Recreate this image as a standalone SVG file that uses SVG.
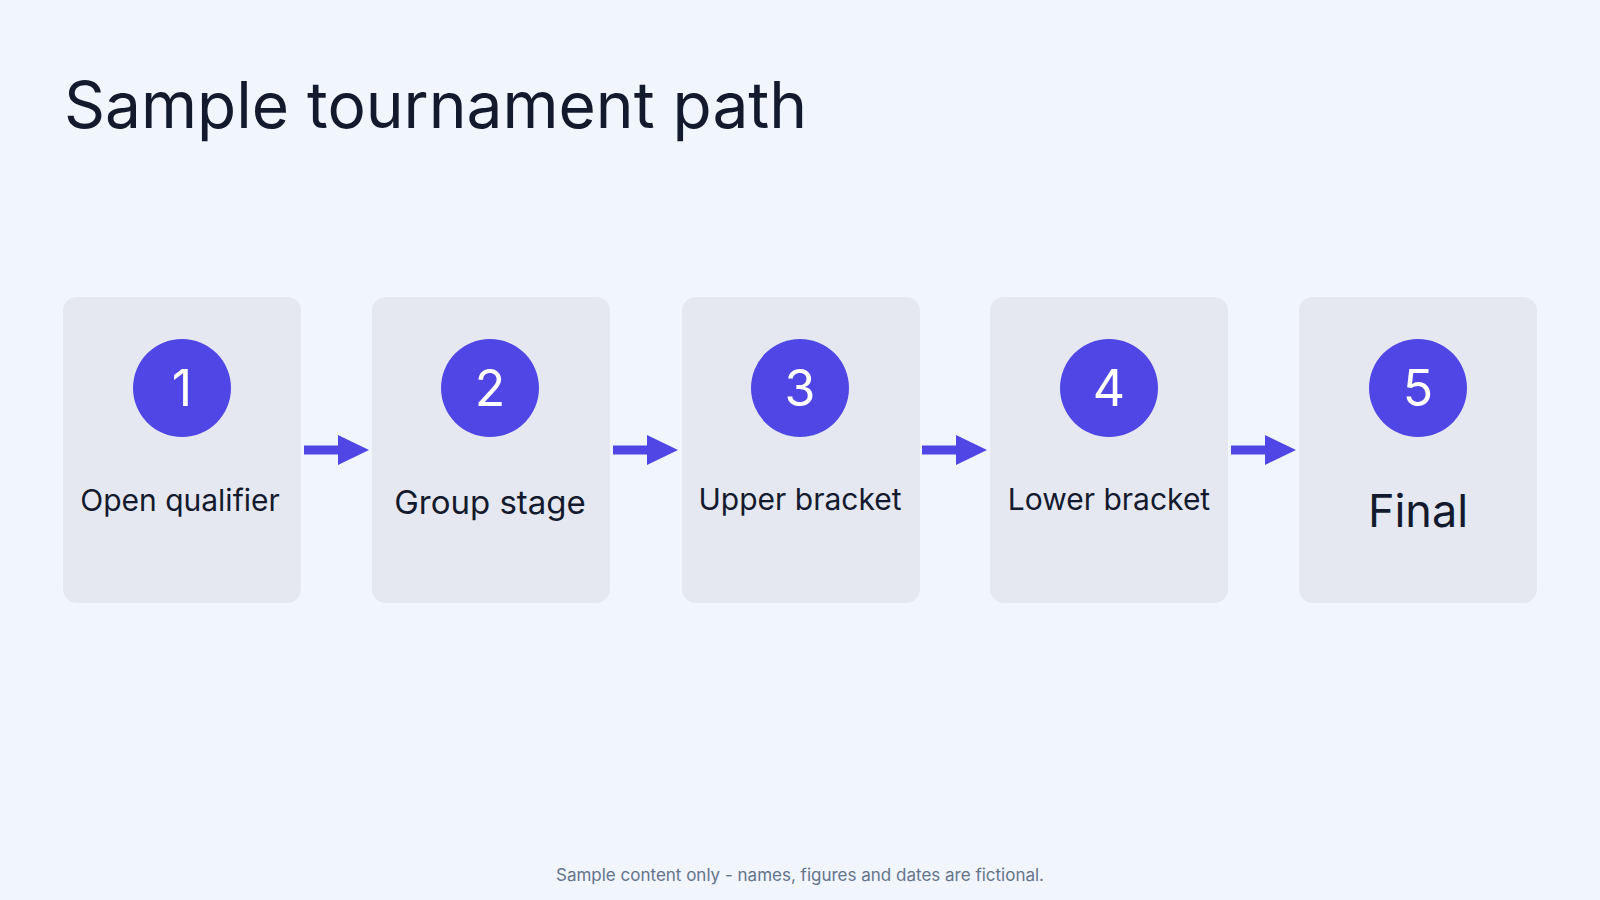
<svg xmlns="http://www.w3.org/2000/svg" width="1600" height="900" viewBox="0 0 1600 900">
<style>
.box{fill:#e5e8f0}
.c{fill:#4f46e5}
.n{font-family:Inter,"Liberation Sans",sans-serif;font-size:50px;fill:#fff;text-anchor:middle}
.l{font-family:Inter,"Liberation Sans",sans-serif;fill:#141a2e;text-anchor:middle}
.a{stroke:#4f46e5;stroke-width:9;fill:none}
.h{fill:#4f46e5}
</style>
<rect width="1600" height="900" fill="#f1f5fe"/>
<text x="64" y="128" font-family="Inter,'Liberation Sans',sans-serif" font-size="64" fill="#141a2e">Sample tournament path</text>
<g id="n1"><rect class="box" x="63" y="297" width="238" height="306" rx="14"/><circle class="c" cx="182" cy="388" r="49"/><text class="n" x="182" y="406">1</text><text class="l" x="180" y="511" font-size="30">Open qualifier</text></g>
<g id="n2"><rect class="box" x="372" y="297" width="238" height="306" rx="14"/><circle class="c" cx="490" cy="388" r="49"/><text class="n" x="490" y="406">2</text><text class="l" x="490" y="514" font-size="33">Group stage</text></g>
<g id="n3"><rect class="box" x="682" y="297" width="238" height="306" rx="14"/><circle class="c" cx="800" cy="388" r="49"/><text class="n" x="800" y="406">3</text><text class="l" x="800" y="510" font-size="30">Upper bracket</text></g>
<g id="n4"><rect class="box" x="990" y="297" width="238" height="306" rx="14"/><circle class="c" cx="1109" cy="388" r="49"/><text class="n" x="1109" y="406">4</text><text class="l" x="1109" y="510" font-size="30">Lower bracket</text></g>
<g id="n5"><rect class="box" x="1299" y="297" width="238" height="306" rx="14"/><circle class="c" cx="1418" cy="388" r="49"/><text class="n" x="1418" y="406">5</text><text class="l" x="1418" y="527" font-size="45">Final</text></g>
<g id="connectors">
<line class="a" x1="304" y1="450" x2="345" y2="450"/><polygon class="h" points="338,435 369,450 338,465"/>
<line class="a" x1="613" y1="450" x2="654" y2="450"/><polygon class="h" points="647,435 678,450 647,465"/>
<line class="a" x1="922" y1="450" x2="963" y2="450"/><polygon class="h" points="956,435 987,450 956,465"/>
<line class="a" x1="1231" y1="450" x2="1272" y2="450"/><polygon class="h" points="1265,435 1296,450 1265,465"/>
</g>
<text x="800" y="881" text-anchor="middle" font-family="Inter,'Liberation Sans',sans-serif" font-size="17" fill="#64748b">Sample content only - names, figures and dates are fictional.</text>
</svg>
